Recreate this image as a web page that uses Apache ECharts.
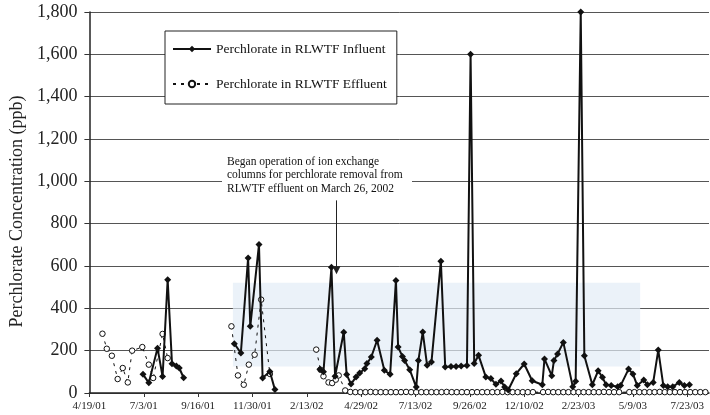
<!DOCTYPE html>
<html>
<head>
<meta charset="utf-8">
<title>Perchlorate in RLWTF</title>
<script src="https://cdn.jsdelivr.net/npm/echarts@6/dist/echarts.min.js"></script>
<style>
html, body { margin: 0; padding: 0; background: #fff; }
#main { width: 710px; height: 415px; }
</style>
</head>
<body>
<div id="main"></div>
<script>
// sample dates (M/D/YY) and concentrations (ppb); null = no data (line break)
var influentDates = [
  '7/2/01', '7/10/01', '7/22/01', '7/29/01', '8/5/01', '8/11/01', '8/17/01', '8/21/01', '8/27/01',
  '10/1/01',
  '11/5/01', '11/14/01', '11/24/01', '11/27/01', '12/9/01', '12/14/01', '12/24/01', '12/31/01',
  '2/1/02',
  '3/3/02', '3/8/02', '3/19/02', '3/24/02', '4/5/02', '4/9/02', '4/15/02', '4/22/02', '4/27/02',
  '5/4/02', '5/7/02', '5/13/02', '5/21/02', '5/31/02', '6/8/02', '6/16/02', '6/19/02', '6/25/02',
  '6/28/02', '7/5/02', '7/14/02', '7/17/02', '7/23/02', '7/29/02', '8/4/02', '8/17/02', '8/23/02',
  '8/31/02', '9/7/02', '9/14/02', '9/22/02', '9/27/02', '10/2/02', '10/8/02', '10/18/02', '10/25/02',
  '11/1/02', '11/8/02', '11/13/02', '11/18/02', '11/29/02', '12/10/02', '12/21/02', '1/4/03', '1/7/03',
  '1/17/03', '1/20/03', '1/25/03', '2/2/03', '2/15/03', '2/19/03', '2/26/03', '3/3/03', '3/14/03',
  '3/22/03', '3/28/03', '4/2/03', '4/9/03', '4/18/03', '4/22/03', '5/3/03', '5/9/03', '5/15/03',
  '5/24/03', '5/29/03', '6/6/03', '6/13/03', '6/20/03', '6/26/03', '7/3/03', '7/12/03', '7/19/03',
  '7/26/03'
];
var influentPpb = [
  88, 48, 212, 78, 535, 138, 128, 118, 72,
  null,
  233, 189, 638, 315, 701, 71, 102, 16,
  null,
  112, 100, 594, 79, 287, 87, 42, 76, 94,
  115, 139, 170, 249, 107, 88, 532, 217, 173,
  154, 110, 28, 154, 288, 131, 146, 623, 123,
  125, 125, 127, 130, 1600, 139, 178, 76, 68,
  41, 57, 28, 14, 91, 137, 58, 39, 161,
  82, 153, 184, 239, 30, 55, 1800, 176, 39,
  105, 74, 39, 35, 30, 35, 113, 90, 35,
  61, 39, 50, 203, 35, 30, 30, 50, 35,
  39
];

var effluentDates = [
  '5/7/01', '5/13/01', '5/20/01', '5/28/01', '6/4/01', '6/11/01', '6/17/01', '7/1/01', '7/10/01',
  '7/16/01', '7/29/01', '8/5/01',
  '10/1/01',
  '11/1/01', '11/10/01', '11/18/01', '11/25/01', '12/3/01', '12/12/01', '12/24/01',
  '2/1/02',
  '2/26/02', '3/4/02', '3/8/02', '3/15/02', '3/20/02', '3/25/02', '3/29/02',
  '4/7/02', '4/14/02', '4/21/02', '4/28/02', '5/5/02', '5/12/02', '5/19/02', '5/26/02', '6/2/02',
  '6/9/02', '6/16/02', '6/23/02', '6/30/02', '7/7/02', '7/14/02', '7/21/02', '7/28/02', '8/4/02',
  '8/11/02', '8/18/02', '8/25/02', '9/1/02', '9/8/02', '9/15/02', '9/22/02', '9/29/02', '10/6/02',
  '10/13/02', '10/20/02', '10/27/02', '11/3/02', '11/10/02', '11/17/02', '11/24/02', '12/1/02', '12/8/02',
  '12/15/02', '12/22/02', '1/5/03', '1/12/03', '1/19/03', '1/26/03', '2/2/03', '2/9/03', '2/16/03',
  '2/23/03', '3/2/03', '3/9/03', '3/16/03', '3/23/03', '3/30/03', '4/6/03', '4/13/03', '4/20/03',
  '5/4/03', '5/11/03', '5/18/03', '5/25/03', '6/1/03', '6/8/03', '6/15/03', '6/22/03', '6/29/03',
  '7/6/03', '7/13/03', '7/20/03', '7/27/03', '8/3/03', '8/10/03', '8/17/03'
];
var effluentPpb = [
  280, 209, 176, 66, 118, 50, 200, 217, 134,
  71, 279, 165,
  null,
  315, 83, 39, 134, 181, 441, 90,
  null,
  205, 110, 79, 50, 47, 63, 83,
  12, 5, 4, 4, 4, 5, 4, 4, 4,
  4, 4, 4, 5, 4, 4, 4, 4, 4,
  4, 4, 5, 4, 4, 4, 4, 4, 4,
  4, 4, 4, 4, 5, 4, 4, 4, 4,
  4, 4, 4, 5, 4, 4, 4, 4, 4,
  4, 4, 4, 4, 4, 5, 4, 4, 4,
  4, 4, 4, 4, 4, 4, 5, 4, 4,
  4, 4, 4, 4, 4, 4, 4
];

var startDate = '4/19/01';   // first x tick
var tickDays = 75;          // days between date ticks
var lastDay = 855;
var yTicks = [0, 200, 400, 600, 800, 1000, 1200, 1400, 1600, 1800];

var DAY = 86400000;
function parseDate(s) {
  var p = s.split('/');
  return Date.UTC(2000 + (+p[2]), +p[0] - 1, +p[1]);
}
var t0 = parseDate(startDate);
function dayOf(s) { return Math.round((parseDate(s) - t0) / DAY); }
function fmtDay(v) {
  var d = new Date(t0 + v * DAY);
  var yy = String(d.getUTCFullYear() % 100);
  if (yy.length < 2) yy = '0' + yy;
  return (d.getUTCMonth() + 1) + '/' + d.getUTCDate() + '/' + yy;
}
function pairs(dates, vals) {
  return dates.map(function (s, i) { return [dayOf(s), vals[i]]; });
}

var serif = 'Liberation Serif, Times New Roman, serif';
var chart = echarts.init(document.getElementById('main'));

var option = {
  animation: false,
  backgroundColor: '#fff',
  grid: { left: 88, right: 1, top: 12, bottom: 22 },
  legend: {
    orient: 'vertical',
    left: 165,
    top: 31,
    padding: [11, 10, 13, 7],
    itemGap: 21,
    itemWidth: 38,
    itemHeight: 8,
    backgroundColor: '#fff',
    borderColor: '#222',
    borderWidth: 1,
    borderRadius: 0,
    textStyle: { fontFamily: serif, fontSize: 13.5, color: '#111' },
    data: ['Perchlorate in RLWTF Influent', 'Perchlorate in RLWTF Effluent']
  },
  xAxis: {
    type: 'value',
    min: 0,
    max: lastDay,
    interval: tickDays,
    splitLine: { show: false },
    axisLine: { lineStyle: { color: '#222', width: 1.5 } },
    axisTick: { length: 4, lineStyle: { color: '#333' } },
    axisLabel: {
      showMaxLabel: false,
      margin: 8,
      fontFamily: serif,
      fontSize: 11,
      color: '#222',
      formatter: fmtDay
    }
  },
  yAxis: {
    type: 'value',
    min: yTicks[0],
    max: yTicks[yTicks.length - 1],
    interval: yTicks[1] - yTicks[0],
    name: 'Perchlorate Concentration (ppb)',
    nameLocation: 'middle',
    nameGap: 57,
    nameTextStyle: { fontFamily: serif, fontSize: 18, color: '#222', padding: [0, 18, 0, 0] },
    axisLine: { show: true, lineStyle: { color: '#222', width: 1.5 } },
    axisTick: { show: true, length: 5, lineStyle: { color: '#333' } },
    splitLine: { lineStyle: { color: '#555', width: 1 } },
    axisLabel: {
      margin: 12,
      fontFamily: serif,
      fontSize: 18,
      color: '#222',
      formatter: function (v) { return v.toLocaleString('en-US'); }
    }
  },
  graphic: [
    {
      type: 'rect',
      shape: { x: 222, y: 153, width: 190, height: 44 },
      style: { fill: '#fff' },
      z: 1
    },
    {
      type: 'text',
      x: 227,
      y: 155,
      z: 2,
      style: {
        text: 'Began operation of ion exchange\ncolumns for perchlorate removal from\nRLWTF effluent on March 26, 2002',
        textAlign: 'left',
        textVerticalAlign: 'top',
        font: '11.5px ' + serif,
        lineHeight: 13.5,
        fill: '#111'
      }
    }
  ],
  series: [
    {
      name: 'Perchlorate in RLWTF Influent',
      type: 'line',
      data: pairs(influentDates, influentPpb),
      connectNulls: false,
      symbol: 'diamond',
      symbolSize: 7,
      showAllSymbol: true,
      itemStyle: { color: '#111' },
      lineStyle: { color: '#111', width: 2 },
      z: 4,
      markArea: {
        silent: true,
        itemStyle: { color: 'rgba(226,236,247,0.7)' },
        data: [[{ xAxis: 198, yAxis: 125 }, { xAxis: 760, yAxis: 521 }]]
      },
      markLine: {
        silent: true,
        symbol: ['none', 'triangle'],
        symbolSize: [8, 8],
        label: { show: false },
        lineStyle: { color: '#222', width: 1, type: 'solid' },
        data: [[{ coord: [dayOf('3/26/02'), 910] }, { coord: [dayOf('3/26/02'), 580] }]]
      }
    },
    {
      name: 'Perchlorate in RLWTF Effluent',
      type: 'line',
      data: pairs(effluentDates, effluentPpb),
      connectNulls: false,
      symbol: 'circle',
      symbolSize: 5.5,
      showAllSymbol: true,
      itemStyle: { color: '#fff', borderColor: '#111', borderWidth: 1 },
      lineStyle: { color: '#111', width: 1, type: [3, 5] },
      z: 3
    }
  ]
};

chart.setOption(option);
</script>
</body>
</html>
